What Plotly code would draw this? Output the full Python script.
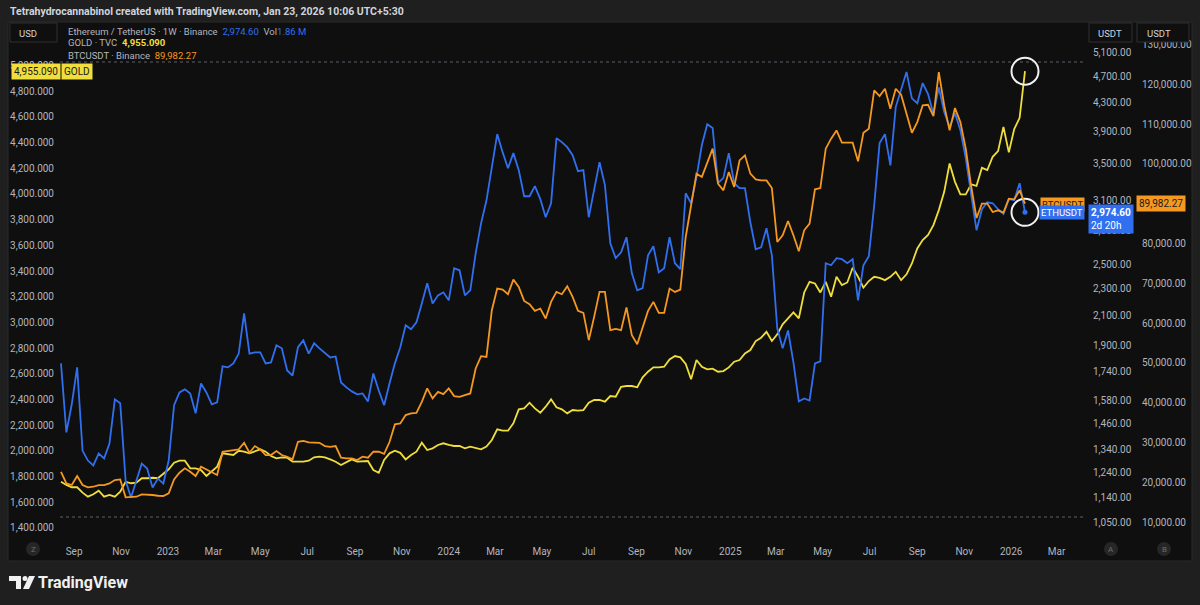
import numpy as np
import pandas as pd
import plotly.graph_objects as go

W, H = 1200, 605

# weekly closes (first bar = week of 2022-08-15)
week_start = "2022-08-15"

eth_close = [
    1790, 1419, 1560, 1766, 1335, 1291, 1270, 1322, 1300, 1367,
    1586, 1565, 1207, 1140, 1207, 1278, 1257, 1179, 1215, 1195,
    1291, 1555, 1623, 1640, 1618, 1513, 1673, 1623, 1560, 1570,
    1772, 1766, 1790, 1850, 2118, 1850, 1857, 1857, 1790, 1796,
    1902, 1883, 1748, 1718, 1890, 1934, 1850, 1915, 1883, 1857,
    1826, 1832, 1679, 1651, 1629, 1613, 1618, 1575, 1730, 1634,
    1555, 1673, 1790, 1890, 2035, 2008, 2055, 2190, 2343, 2190,
    2250, 2273, 2213, 2465, 2448, 2250, 2289, 2592, 2867, 3095,
    3462, 3870, 3642, 3450, 3630, 3428, 3140, 3140, 3249, 3110,
    2926, 3067, 3818, 3767, 3704, 3605, 3416, 3428, 2926, 3227,
    3521, 3260, 2681, 2550, 2601, 2736, 2423, 2289, 2305, 2575,
    2654, 2431, 2465, 2736, 2507, 2457, 3172, 3067, 3349, 3730,
    4000, 3950, 3281, 3340, 3630, 3281, 3227, 3227, 2877, 2627,
    2644, 2820, 2575, 2014, 1883, 2000, 1796, 1575, 1591, 1580,
    1790, 1802, 2507, 2490, 2550, 2541, 2507, 2541, 2213, 2490,
    2567, 3046, 3754, 3870, 3483, 4238, 4495, 4768, 4364, 4293,
    4595, 4427, 4139, 4529, 4167, 3963, 4153, 3922, 3569, 3151,
    2801, 3006, 3077, 3067, 3006, 2958, 3110, 3099, 3281, 2974.60,
]

gold_close = [
    1760, 1735, 1717, 1717, 1675, 1644, 1662, 1690, 1644, 1657,
    1644, 1682, 1760, 1748, 1752, 1787, 1787, 1791, 1787, 1825,
    1857, 1908, 1924, 1924, 1864, 1864, 1851, 1805, 1838, 1877,
    1981, 1973, 1968, 2001, 1994, 1981, 1994, 2012, 1994, 1960,
    1942, 1950, 1947, 1916, 1916, 1916, 1924, 1950, 1955, 1950,
    1934, 1916, 1890, 1911, 1934, 1916, 1921, 1921, 1851, 1830,
    1930, 1981, 2001, 1985, 1934, 1968, 1994, 2064, 2007, 2020,
    2046, 2059, 2046, 2038, 2038, 2020, 2033, 2020, 2012, 2033,
    2085, 2168, 2157, 2157, 2215, 2323, 2331, 2375, 2331, 2297,
    2344, 2401, 2339, 2323, 2292, 2318, 2313, 2318, 2375, 2396,
    2396, 2383, 2427, 2422, 2499, 2505, 2505, 2495, 2572, 2616,
    2650, 2650, 2655, 2712, 2738, 2728, 2676, 2557, 2707, 2655,
    2635, 2640, 2616, 2621, 2650, 2694, 2707, 2759, 2785, 2855,
    2881, 2927, 2855, 2907, 2985, 3031, 3078, 3031, 3233, 3316,
    3303, 3233, 3316, 3200, 3355, 3291, 3311, 3425, 3355, 3270,
    3322, 3355, 3347, 3329, 3355, 3394, 3329, 3374, 3459, 3576,
    3641, 3680, 3757, 3874, 4016, 4237, 4094, 3996, 3996, 4074,
    4063, 4203, 4185, 4289, 4333, 4522, 4323, 4504, 4592, 4955.090,
]

btc_close = [
    22600, 19700, 19290, 21550, 19290, 18700, 18860, 19290, 19290, 19700,
    20540, 20700, 16200, 16200, 16350, 16950, 16950, 16780, 16600, 16530,
    17200, 20700, 22380, 23480, 22630, 21550, 23900, 23220, 22630, 21800,
    27650, 27820, 27900, 28250, 29900, 27400, 29080, 28250, 26820, 26820,
    27820, 26820, 26400, 25740, 30160, 30400, 30000, 30000, 29900, 29080,
    28900, 29080, 26150, 25990, 25990, 25560, 26400, 26150, 27650, 27650,
    27100, 30100, 34520, 34770, 36860, 37280, 37440, 40200, 43560, 41050,
    42710, 42130, 43560, 41630, 41450, 41880, 42300, 48580, 51670, 51490,
    63210, 68650, 68400, 67230, 70910, 69060, 65550, 64720, 63040, 63630,
    61120, 65300, 67810, 67230, 69240, 66550, 63040, 62540, 55680, 61530,
    67810, 67810, 58190, 58520, 58190, 63890, 56940, 54680, 58610, 63040,
    65300, 62540, 62540, 68650, 67810, 68400, 81610, 90000, 97530, 96700,
    100440, 103800, 95000, 93330, 97920, 94160, 100860, 102120, 97530, 96100,
    95840, 95840, 93910, 80360, 82040, 85630, 82040, 78020, 83290, 84970,
    93580, 93910, 103800, 106310, 108390, 105300, 105300, 105300, 100610, 107810,
    108810, 118430, 117000, 118860, 113840, 118860, 117350, 112830, 107810, 110480,
    114670, 114840, 111980, 123030, 114670, 108390, 114000, 110480, 103800, 94420,
    86380, 90000, 90000, 87880, 88310, 87730, 91250, 91070, 93330, 89982.27,
]

eth_volume_m = 1.86
bar_time_left = "2d 20h"

dates = pd.date_range(week_start, periods=len(eth_close), freq="7D")

month_ticks = ["2022-09-01", "2022-11-01", "2023-01-01", "2023-03-01", "2023-05-01",
               "2023-07-01", "2023-09-01", "2023-11-01", "2024-01-01", "2024-03-01",
               "2024-05-01", "2024-07-01", "2024-09-01", "2024-11-01", "2025-01-01",
               "2025-03-01", "2025-05-01", "2025-07-01", "2025-09-01", "2025-11-01",
               "2026-01-01", "2026-03-01"]
month_text = ["Sep", "Nov", "2023", "Mar", "May", "Jul", "Sep", "Nov", "2024", "Mar",
              "May", "Jul", "Sep", "Nov", "2025", "Mar", "May", "Jul", "Sep", "Nov",
              "2026", "Mar"]

gold_ticks = list(range(1400, 5001, 200))
eth_ticks = [1050, 1140, 1240, 1340, 1460, 1580, 1740, 1900, 2100, 2300, 2500,
             2800, 3100, 3500, 3900, 4300, 4700, 5100]
# 90,000 sits under the last-price label, so it is left out
btc_ticks = [10000, 20000, 30000, 40000, 50000, 60000, 70000, 80000,
             100000, 110000, 120000, 130000]

BLUE = "#3070f0"
GOLD = "#f0de3c"
ORANGE = "#f5981f"
OUTER = "#1f1f1f"
PANEL = "#0f0f0f"
TICK = "#b2b5be"
TEXT = "#d1d4dc"
FONT = "Roboto"


def fx(x):
    return x / W


def fy(y):
    return 1 - y / H


fig = go.Figure()
fig.add_trace(go.Scatter(x=dates, y=gold_close, yaxis="y", mode="lines",
                         line={"color": GOLD, "width": 1.8}, hoverinfo="skip"))
fig.add_trace(go.Scatter(x=dates[-1:], y=gold_close[-1:], yaxis="y", mode="markers",
                         marker={"symbol": "circle-open", "size": 27, "color": "#f2f2f2",
                                 "line": {"width": 2}}, hoverinfo="skip"))
fig.add_trace(go.Scatter(x=dates, y=eth_close, yaxis="y2", mode="lines",
                         line={"color": BLUE, "width": 1.8}, hoverinfo="skip"))
fig.add_trace(go.Scatter(x=dates[-1:], y=eth_close[-1:], yaxis="y2", mode="markers",
                         marker={"size": 5, "color": BLUE}, hoverinfo="skip"))
fig.add_trace(go.Scatter(x=dates, y=btc_close, yaxis="y3", mode="lines",
                         line={"color": ORANGE, "width": 1.8}, hoverinfo="skip"))
fig.add_trace(go.Scatter(x=dates[-1:], y=eth_close[-1:], yaxis="y2", mode="markers",
                         marker={"symbol": "circle-open", "size": 27, "color": "#f2f2f2",
                                 "line": {"width": 2}}, hoverinfo="skip"))

y_dom = [fy(538), fy(22)]
tickfont = {"family": FONT, "size": 10, "color": TICK}

shapes = [
    # chart panel
    dict(type="rect", xref="paper", yref="paper", x0=fx(8), x1=fx(1192), y0=fy(561), y1=fy(22),
         fillcolor=PANEL, line={"color": "#2a2a2a", "width": 1}, layer="below"),
    # dotted range lines
    dict(type="line", xref="paper", yref="paper", x0=fx(60), x1=fx(1085), y0=fy(62), y1=fy(62),
         line={"color": "#5d606b", "width": 1, "dash": "dot"}, layer="below"),
    dict(type="line", xref="paper", yref="paper", x0=fx(60), x1=fx(1085), y0=fy(517), y1=fy(517),
         line={"color": "#5d606b", "width": 1, "dash": "dot"}, layer="below"),
    # currency boxes
    dict(type="rect", xref="paper", yref="paper", x0=fx(10), x1=fx(57), y0=fy(42), y1=fy(23),
         fillcolor=PANEL, line={"color": "#303030", "width": 1}),
    dict(type="rect", xref="paper", yref="paper", x0=fx(1089), x1=fx(1132), y0=fy(42), y1=fy(23),
         fillcolor=PANEL, line={"color": "#303030", "width": 1}),
    dict(type="rect", xref="paper", yref="paper", x0=fx(1137), x1=fx(1189), y0=fy(42), y1=fy(23),
         fillcolor=PANEL, line={"color": "#303030", "width": 1}),
]
for cx in (33, 1111, 1164):
    shapes.append(dict(type="circle", xref="paper", yref="paper", x0=fx(cx - 7), x1=fx(cx + 7),
                       y0=fy(556), y1=fy(542), fillcolor="#262626", line={"width": 0}))

# TradingView logo
shapes.append(dict(type="path", xref="paper", yref="paper", fillcolor="#f0f0f0", line={"width": 0},
                   path=f"M {fx(9)},{fy(576)} L {fx(21)},{fy(576)} L {fx(21)},{fy(589)} "
                        f"L {fx(16)},{fy(589)} L {fx(16)},{fy(581)} L {fx(9)},{fy(581)} Z"))
shapes.append(dict(type="circle", xref="paper", yref="paper", fillcolor="#f0f0f0", line={"width": 0},
                   x0=fx(22.5), x1=fx(27.5), y0=fy(581), y1=fy(576)))
shapes.append(dict(type="path", xref="paper", yref="paper", fillcolor="#f0f0f0", line={"width": 0},
                   path=f"M {fx(29)},{fy(576)} L {fx(35)},{fy(576)} L {fx(29)},{fy(589)} "
                        f"L {fx(23)},{fy(589)} Z"))

legend_gray = TICK
ann = [
    dict(x=fx(8), y=fy(11), text="<b>Tetrahydrocannabinol created with TradingView.com, Jan 23, 2026 10:06 UTC+5:30</b>",
         font={"family": FONT, "size": 10.5, "color": TEXT}),
    dict(x=fx(17), y=fy(33), text="USD", font={"family": FONT, "size": 9.5, "color": TEXT}),
    dict(x=fx(1096), y=fy(33), text="USDT", font={"family": FONT, "size": 9.5, "color": TEXT}),
    dict(x=fx(1145), y=fy(33), text="USDT", font={"family": FONT, "size": 9.5, "color": TEXT}),
    dict(x=fx(66), y=fy(31),
         text=f"Ethereum / TetherUS · 1W · Binance  <span style='color:{BLUE}'>{eth_close[-1]:,.2f}</span>"
              f"  Vol<span style='color:{BLUE}'>{eth_volume_m:.2f} M</span>",
         font={"family": FONT, "size": 9.5, "color": legend_gray}),
    dict(x=fx(66), y=fy(43),
         text=f"GOLD · TVC  <span style='color:{GOLD}'><b>{gold_close[-1]:,.3f}</b></span>",
         font={"family": FONT, "size": 9.5, "color": legend_gray}),
    dict(x=fx(66), y=fy(55),
         text=f"BTCUSDT · Binance  <span style='color:{ORANGE}'>{btc_close[-1]:,.2f}</span>",
         font={"family": FONT, "size": 9.5, "color": legend_gray}),
    dict(x=fx(36), y=fy(582), text="<b>TradingView</b>",
         font={"family": FONT, "size": 16, "color": "#f0f0f0"}),
]
for cx, letter in ((33, "Z"), (1111, "A"), (1164, "B")):
    ann.append(dict(x=fx(cx), y=fy(549), text=letter, xanchor="center",
                    font={"family": FONT, "size": 8, "color": "#6a6d78"}))
for a in ann:
    a.setdefault("xref", "paper")
    a.setdefault("yref", "paper")
    a.setdefault("xanchor", "left")
    a.setdefault("yanchor", "middle")
    a["showarrow"] = False

# last-price labels tied to the data
ann += [
    dict(xref="paper", yref="y3", x=fx(1085), y=btc_close[-1], xanchor="right", yanchor="middle",
         text="BTCUSDT", showarrow=False, bgcolor=ORANGE, borderpad=1,
         font={"family": FONT, "size": 9.5, "color": "#1a1a1a"}, yshift=-1),
    dict(xref="paper", yref="y2", x=fx(1085), y=np.log10(eth_close[-1]), xanchor="right",
         yanchor="middle", text="ETHUSDT", showarrow=False, bgcolor=BLUE, borderpad=1,
         font={"family": FONT, "size": 9.5, "color": "#ffffff"}),
    dict(xref="paper", yref="y2", x=fx(1088), y=np.log10(eth_close[-1]), xanchor="left",
         yanchor="top", yshift=8, text=f"<b>{eth_close[-1]:,.2f}</b><br>{bar_time_left}",
         showarrow=False, bgcolor=BLUE, borderpad=2, align="left",
         font={"family": FONT, "size": 10, "color": "#ffffff"}),
    dict(xref="paper", yref="y3", x=fx(1136), y=btc_close[-1], xanchor="left", yanchor="middle",
         text=f"{btc_close[-1]:,.2f}", showarrow=False, bgcolor=ORANGE, borderpad=2,
         font={"family": FONT, "size": 10, "color": "#1a1a1a"}),
    dict(xref="paper", yref="y", x=fx(11), y=gold_close[-1], xanchor="left", yanchor="middle",
         text=f"{gold_close[-1]:,.3f}", showarrow=False, bgcolor=GOLD, borderpad=2,
         font={"family": FONT, "size": 10, "color": "#1a1a1a"}),
    dict(xref="paper", yref="y", x=fx(61), y=gold_close[-1], xanchor="left", yanchor="middle",
         text="GOLD", showarrow=False, bgcolor=GOLD, borderpad=2,
         font={"family": FONT, "size": 10, "color": "#1a1a1a"}),
]

fig.update_layout(
    width=W, height=H,
    margin={"l": 0, "r": 0, "t": 0, "b": 0},
    paper_bgcolor=OUTER,
    plot_bgcolor="rgba(0,0,0,0)",
    showlegend=False,
    font={"family": FONT, "color": TICK, "size": 10},
    xaxis={"domain": [fx(60), fx(1085)], "type": "date",
           "range": ["2022-08-13 17:00", "2026-04-07"],
           "tickvals": month_ticks, "ticktext": month_text,
           "tickfont": tickfont, "showgrid": False, "zeroline": False, "showline": False,
           "ticks": "outside", "ticklen": 4, "tickcolor": "rgba(0,0,0,0)"},
    yaxis={"domain": y_dom, "range": [1322, 5338], "tickvals": gold_ticks,
           "tickformat": ",.3f", "tickfont": tickfont, "showgrid": False, "zeroline": False,
           "ticks": "outside", "ticklen": 3, "tickcolor": "rgba(0,0,0,0)"},
    yaxis2={"domain": y_dom, "overlaying": "y", "side": "right", "anchor": "x", "type": "log",
            "range": [np.log10(995), np.log10(5642)], "tickvals": eth_ticks,
            "tickformat": ",.2f", "tickfont": tickfont, "showgrid": False, "zeroline": False,
            "ticks": "outside", "ticklen": 5, "tickcolor": "rgba(0,0,0,0)"},
    yaxis3={"domain": y_dom, "overlaying": "y", "side": "right", "anchor": "free",
            "position": fx(1136), "range": [5980, 135628], "tickvals": btc_ticks,
            "tickformat": ",.2f", "tickfont": tickfont, "showgrid": False, "zeroline": False,
            "ticks": "outside", "ticklen": 3, "tickcolor": "rgba(0,0,0,0)"},
    shapes=shapes,
    annotations=ann,
)

fig.write_html("out.html", config={"displayModeBar": False},
               post_script="document.body.style.margin='0';")
